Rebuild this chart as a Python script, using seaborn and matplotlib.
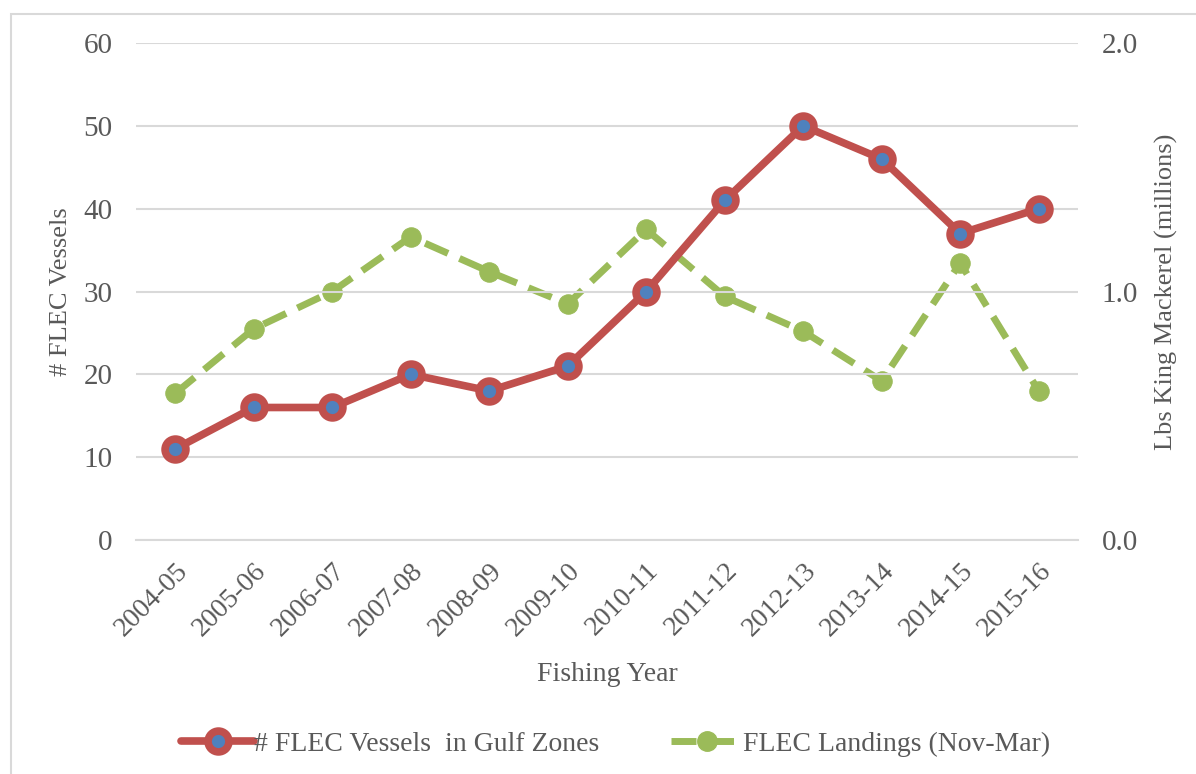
import numpy as np
import matplotlib
matplotlib.use('Agg')
import matplotlib.pyplot as plt
import seaborn as sns
import pandas as pd
from matplotlib.lines import Line2D
from matplotlib.patches import Rectangle

years = ['2004-05', '2005-06', '2006-07', '2007-08', '2008-09', '2009-10',
         '2010-11', '2011-12', '2012-13', '2013-14', '2014-15', '2015-16']
vessels = [11, 16, 16, 20, 18, 21, 30, 41, 50, 46, 37, 40]
landings = [0.59, 0.85, 1.00, 1.22, 1.08, 0.95, 1.25, 0.98, 0.84, 0.64, 1.115, 0.60]

RED = '#C0504D'
GREEN = '#9BBB59'
BLUE = '#4F81BD'
GRID = '#D9D9D9'
TXT = '#595959'

sns.set_style('white')
plt.rcParams['font.family'] = ['Liberation Serif', 'DejaVu Serif']

df = pd.DataFrame({'year': years, 'x': np.arange(len(years)),
                   'vessels': vessels, 'landings': landings})

fig = plt.figure(figsize=(11.96, 7.74), dpi=100)
ax = fig.add_axes([0.1137, 0.3023, 0.7876, 0.6421])
ax2 = ax.twinx()

sns.lineplot(data=df, x='x', y='landings', ax=ax2, color=GREEN, lw=5,
             linestyle=(0, (3.6, 1.8)), marker='o', markersize=14,
             markeredgecolor=GREEN, zorder=2)
sns.lineplot(data=df, x='x', y='vessels', ax=ax, color=RED, lw=5.5,
             marker='o', markersize=15, markerfacecolor=BLUE,
             markeredgecolor=RED, markeredgewidth=5.5)
ax.set_zorder(ax2.get_zorder() + 1)
ax.patch.set_visible(False)

ax.set_xlim(-0.5, len(years) - 0.5)
ax.set_ylim(0, 60)
ax.set_yticks(range(0, 61, 10))
ax2.set_ylim(0, 2.0)
ax2.set_yticks([0, 1.0, 2.0])
ax2.set_yticklabels(['0.0', '1.0', '2.0'])
ax.set_xticks(df['x'])
ax.set_xticklabels(years, rotation=45, ha='right', rotation_mode='anchor')

ax.grid(axis='y', color=GRID, lw=1.5)
ax.set_axisbelow(True)
for a in (ax, ax2):
    for s in a.spines.values():
        s.set_visible(False)
ax.spines['bottom'].set_visible(True)
ax.spines['bottom'].set_color(GRID)
ax.spines['bottom'].set_linewidth(1.5)

ax.tick_params(axis='y', length=0, labelsize=21, labelcolor=TXT, pad=17)
ax.tick_params(axis='x', length=0, labelsize=20, labelcolor=TXT, pad=13)
ax2.tick_params(axis='y', length=0, labelsize=21, labelcolor=TXT, pad=17)

ax.set_xlabel('Fishing Year', fontsize=20, color=TXT, labelpad=15)
ax.set_ylabel('# FLEC Vessels', fontsize=19, color=TXT, labelpad=8)
ax2.set_ylabel('Lbs King Mackerel (millions)', fontsize=19, color=TXT, labelpad=12)

handles = [
    Line2D([], [], color=RED, lw=5.5, marker='o', markersize=15,
           markerfacecolor=BLUE, markeredgecolor=RED, markeredgewidth=5.5),
    Line2D([], [], color=GREEN, lw=5, linestyle=(0, (3.6, 1.8)), marker='o',
           markersize=14, markeredgecolor=GREEN),
]
fig.legend(handles, ['# FLEC Vessels  in Gulf Zones', 'FLEC Landings (Nov-Mar)'],
           loc='center', bbox_to_anchor=(0.515, 0.039), ncol=2, frameon=False,
           fontsize=20, labelcolor=TXT, handlelength=2.6, handletextpad=0.0,
           columnspacing=2.6)

fig.patches.append(Rectangle((0.0092, -0.1), 2.0, 1.082, transform=fig.transFigure,
                             fill=False, edgecolor=GRID, lw=1.5))

fig.savefig('out.png', dpi=100)
